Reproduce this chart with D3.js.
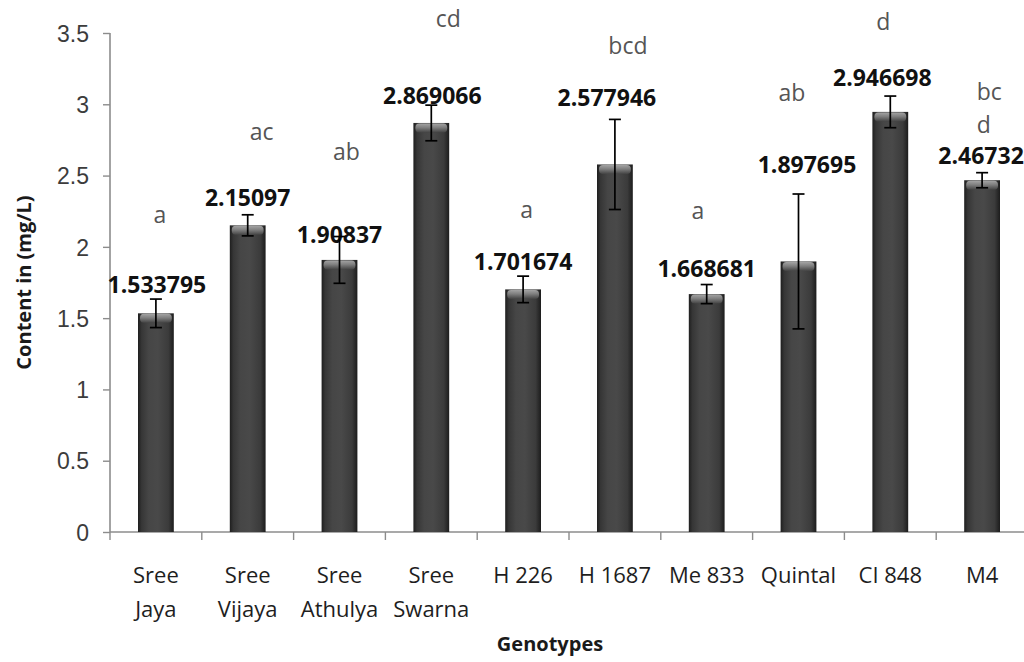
<!DOCTYPE html>
<html>
<head>
<meta charset="utf-8">
<script src="https://cdn.jsdelivr.net/npm/d3@7"></script>
<style>
  html, body { margin: 0; padding: 0; background: #fff; }
  svg { display: block; font-family: "Open Sans", "DejaVu Sans", sans-serif; }
</style>
</head>
<body>
<svg id="chart" width="1024" height="662"></svg>
<script>
// Genotypes and their measured content (mg/L)
const categories = ["Sree\nJaya", "Sree\nVijaya", "Sree\nAthulya", "Sree\nSwarna",
                    "H 226", "H 1687", "Me 833", "Quintal", "CI 848", "M4"];
const values = [1.533795, 2.15097, 1.90837, 2.869066, 1.701674,
                2.577946, 1.668681, 1.897695, 2.946698, 2.46732];
const errors = [0.10, 0.074, 0.164, 0.125, 0.093, 0.316, 0.067, 0.473, 0.111, 0.053];
const groups = ["a", "ac", "ab", "cd", "a", "bcd", "a", "ab", "d", "bcd"];
const valueLabels = ["1.533795", "2.15097", "1.90837", "2.869066", "1.701674",
                     "2.577946", "1.668681", "1.897695", "2.946698", "2.46732"];
const yTicks = [0, 0.5, 1, 1.5, 2, 2.5, 3, 3.5];
const yTickLabels = ["0", "0.5", "1", "1.5", "2", "2.5", "3", "3.5"];
const yTitle = "Content in (mg/L)";
const xTitle = "Genotypes";

// ---- layout ----
const svg = d3.select("#chart");
const plot = { left: 110, right: 1028, top: 33, bottom: 532 };

const x = d3.scaleBand()
  .domain(categories)
  .range([plot.left, plot.right])
  .paddingInner(0.61)
  .paddingOuter(0.305);

const y = d3.scaleLinear()
  .domain([0, 3.5])
  .range([plot.bottom, plot.top]);

// Per-bar placement of the value labels and group letters, in px
// relative to the bar centre (dx) and the bar top (dy, text baseline).
const valueLabelPos = [[1, -20], [0, -19], [0, -17], [1, -19], [0, -19],
                       [-8, -58], [0, -17], [8.5, -88], [-8, -26], [-1, -16]];
const groupPos = [[4, -90], [14, -85], [7, -100], [17, -96], [3.6, -71],
                  [13, -110.5], [-8.7, -75], [-6.5, -160], [-7, -82], [-5.4, -80]];
// the last group label wraps after two letters, left aligned
const groupWrap = { 9: 2 };
const wrapLineGap = 33;

// ---- gradients for the shaded bars ----
const defs = svg.append("defs");
const body = defs.append("linearGradient").attr("id", "barBody")
  .attr("x1", "0").attr("x2", "1").attr("y1", "0").attr("y2", "0");
[["0%", "#1e1e1e"], ["10%", "#363636"], ["30%", "#464646"], ["55%", "#494949"],
 ["85%", "#3b3b3b"], ["100%", "#1c1c1c"]]
  .forEach(([o, c]) => body.append("stop").attr("offset", o).attr("stop-color", c));

const cap = defs.append("linearGradient").attr("id", "barCap")
  .attr("x1", "0").attr("x2", "0").attr("y1", "0").attr("y2", "1");
[["0%", "#b5b5b5"], ["45%", "#8a8a8a"], ["100%", "#444"]]
  .forEach(([o, c]) => cap.append("stop").attr("offset", o).attr("stop-color", c));

// ---- axes ----
const axisColor = "#8c8c8c";

const yAxis = svg.append("g")
  .attr("transform", `translate(${plot.left},0)`)
  .call(d3.axisLeft(y).tickValues(yTicks)
    .tickFormat((d, i) => yTickLabels[i]).tickSize(7).tickPadding(14));
yAxis.select(".domain").attr("stroke", axisColor).attr("stroke-width", 1.6)
  .attr("d", `M0,${plot.top}V${plot.bottom}`);
yAxis.selectAll(".tick line").attr("stroke", axisColor).attr("stroke-width", 1.4);
yAxis.selectAll(".tick text")
  .attr("fill", "#3c3c3c").style("font-size", "23px")
  .attr("dy", "0.36em");

// x axis: ticks sit on the band boundaries
const boundaries = categories.map(c => x(c) - x.step() * x.paddingInner() / 2);
boundaries.push(plot.right);
const xAxisG = svg.append("g");
xAxisG.append("line")
  .attr("x1", plot.left).attr("x2", plot.right)
  .attr("y1", plot.bottom).attr("y2", plot.bottom)
  .attr("stroke", axisColor).attr("stroke-width", 1.6);
xAxisG.selectAll("line.tick").data(boundaries).join("line")
  .attr("class", "tick")
  .attr("x1", d => d).attr("x2", d => d)
  .attr("y1", plot.bottom).attr("y2", plot.bottom + 8)
  .attr("stroke", axisColor).attr("stroke-width", 1.4);

// category labels (one or two lines)
const catText = svg.append("g").selectAll("text").data(categories).join("text")
  .attr("text-anchor", "middle")
  .attr("fill", "#1e1e1e")
  .style("font-size", "22px")
  .attr("transform", d => `translate(${x(d) + x.bandwidth() / 2},583)`);
catText.selectAll("tspan").data(d => d.split("\n")).join("tspan")
  .attr("x", 0).attr("y", (d, i) => i * 34)
  .text(d => d);

// axis titles
svg.append("text")
  .attr("x", (plot.left + 990) / 2).attr("y", 651)
  .attr("text-anchor", "middle")
  .attr("fill", "#1a1a1a")
  .style("font-size", "20px").style("font-weight", "bold")
  .text(xTitle);

svg.append("text")
  .attr("transform", `translate(31,${(plot.top + plot.bottom) / 2}) rotate(-90)`)
  .attr("text-anchor", "middle")
  .attr("fill", "#1a1a1a")
  .style("font-size", "20px").style("font-weight", "bold")
  .text(yTitle);

// ---- bars ----
const bars = svg.append("g").selectAll("g").data(values).join("g");
bars.append("rect")
  .attr("x", (d, i) => x(categories[i]))
  .attr("y", d => y(d))
  .attr("width", x.bandwidth())
  .attr("height", d => y(0) - y(d))
  .attr("fill", "url(#barBody)");
bars.append("rect")
  .attr("x", (d, i) => x(categories[i]) + 2)
  .attr("y", d => y(d) + 0.5)
  .attr("width", x.bandwidth() - 4)
  .attr("height", 9)
  .attr("rx", 4)
  .attr("fill", "url(#barCap)")
  .attr("opacity", 0.85);

// ---- value labels ----
svg.append("g").selectAll("text").data(values).join("text")
  .attr("x", (d, i) => x(categories[i]) + x.bandwidth() / 2 + valueLabelPos[i][0])
  .attr("y", (d, i) => y(d) + valueLabelPos[i][1])
  .attr("text-anchor", "middle")
  .attr("fill", "#111")
  .style("font-size", "23px").style("font-weight", "bold")
  .text((d, i) => valueLabels[i]);

// ---- group letters ----
const letters = svg.append("g").selectAll("text").data(groups).join("text")
  .attr("fill", "#555")
  .style("font-size", "23px")
  .attr("text-anchor", (d, i) => groupWrap[i] ? "start" : "middle")
  .attr("transform", (d, i) =>
    `translate(${x(categories[i]) + x.bandwidth() / 2 + groupPos[i][0]},${y(values[i]) + groupPos[i][1]})`);
letters.selectAll("tspan")
  .data((d, i) => groupWrap[i] ? [d.slice(0, groupWrap[i]), d.slice(groupWrap[i])] : [d])
  .join("tspan")
  .attr("x", 0).attr("y", (d, i) => i * wrapLineGap)
  .text(d => d);

// ---- error bars ----
const err = svg.append("g").attr("stroke", "#000").attr("stroke-width", 1.7)
  .selectAll("g").data(values).join("g")
  .attr("transform", (d, i) => `translate(${x(categories[i]) + x.bandwidth() / 2},0)`);
err.append("line")
  .attr("y1", (d, i) => y(d + errors[i])).attr("y2", (d, i) => y(d - errors[i]));
err.append("line").attr("x1", -6).attr("x2", 6)
  .attr("y1", (d, i) => y(d + errors[i])).attr("y2", (d, i) => y(d + errors[i]));
err.append("line").attr("x1", -6).attr("x2", 6)
  .attr("y1", (d, i) => y(d - errors[i])).attr("y2", (d, i) => y(d - errors[i]));
</script>
</body>
</html>
